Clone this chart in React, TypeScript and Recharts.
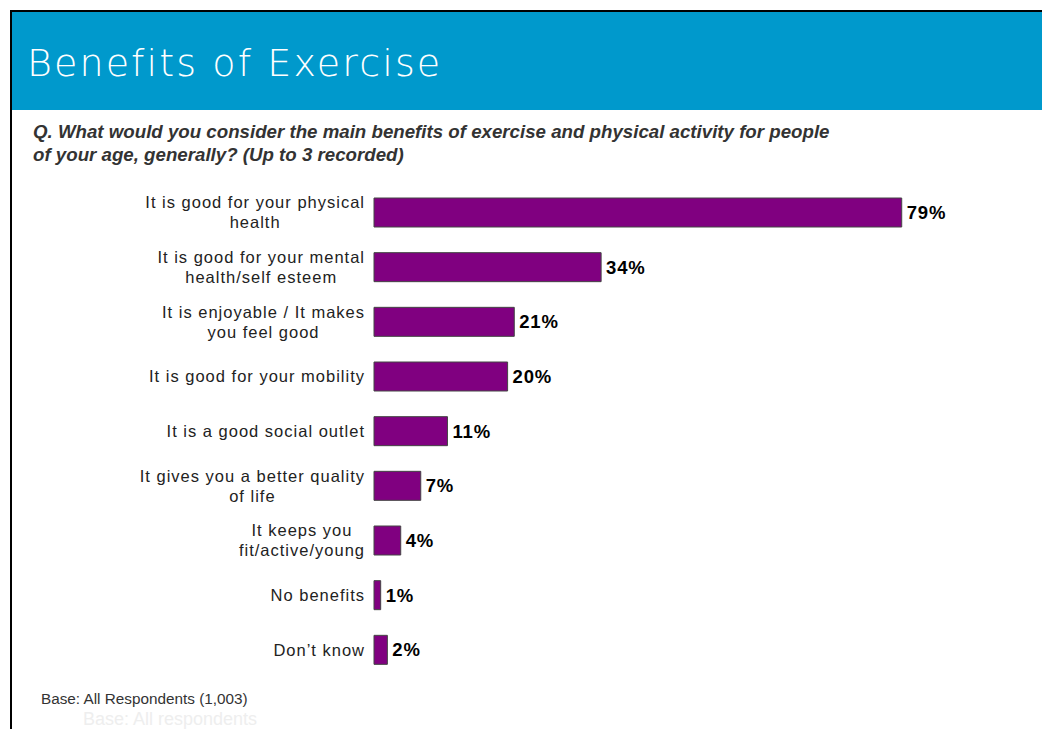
import { BarChart, Bar, XAxis, YAxis, LabelList } from "recharts";

const categories = [
  "It is good for your physical\nhealth",
  "It is good for your mental\nhealth/self esteem",
  "It is enjoyable / It makes\nyou feel good",
  "It is good for your mobility",
  "It is a good social outlet",
  "It gives you a better quality\nof life",
  "It keeps you\nfit/active/young",
  "No benefits",
  "Don\u2019t know",
];
const values = [79, 34, 21, 20, 11, 7, 4, 1, 2];

const data = categories.map((name, i) => ({ name, value: values[i] }));

const LABEL_SIZE = 16.5;
const LABEL_SPACING = 1;
const LABEL_FONT = `${LABEL_SIZE}px 'Liberation Sans', Arial, sans-serif`;

let ctx: CanvasRenderingContext2D | null = null;
function textWidth(s: string) {
  if (!ctx) ctx = document.createElement("canvas").getContext("2d");
  if (!ctx) return s.length * 8;
  ctx.font = LABEL_FONT;
  return ctx.measureText(s).width + s.length * LABEL_SPACING;
}

// multi-line category label, lines centred, block right-aligned to the axis
function CategoryTick(props: any) {
  const { x, y, payload } = props;
  const lines: string[] = String(payload.value).split("\n");
  const w = Math.max(...lines.map(textWidth));
  const cx = x - w / 2;
  const lh = 20;
  const y0 = y - ((lines.length - 1) * lh) / 2;
  return (
    <g>
      {lines.map((l, i) => (
        <text
          key={i}
          x={cx}
          y={y0 + i * lh}
          dy={6}
          textAnchor="middle"
          fill="#222"
          style={{ font: LABEL_FONT, letterSpacing: LABEL_SPACING }}
        >
          {l}
        </text>
      ))}
    </g>
  );
}

export default function App() {
  return (
    <div
      style={{
        position: "absolute",
        left: 0,
        top: 0,
        width: 1042,
        height: 729,
        background: "#fff",
        overflow: "hidden",
        fontFamily: "'Liberation Sans', Arial, sans-serif",
      }}
    >
      {/* frame */}
      <div style={{ position: "absolute", left: 10, top: 10, width: 1032, height: 2, background: "#000" }} />
      <div style={{ position: "absolute", left: 10, top: 10, width: 2, height: 719, background: "#000" }} />
      {/* header band */}
      <div
        style={{
          position: "absolute",
          left: 12,
          top: 12,
          width: 1030,
          height: 98,
          background: "#0099CC",
        }}
      />
      <div
        style={{
          position: "absolute",
          left: 27,
          top: 40,
          color: "#fff",
          fontFamily: "'DejaVu Sans ExtraLight', 'DejaVu Sans', sans-serif",
          fontWeight: 200,
          fontSize: 38,
          letterSpacing: 2.1,
          lineHeight: "46px",
          whiteSpace: "nowrap",
        }}
      >
        Benefits of Exercise
      </div>
      <div
        style={{
          position: "absolute",
          left: 33,
          top: 120,
          color: "#333",
          fontSize: 18.7,
          fontWeight: "bold",
          fontStyle: "italic",
          lineHeight: "23px",
          whiteSpace: "nowrap",
        }}
      >
        Q. What would you consider the main benefits of exercise and physical activity for people
        <br />
        of your age, generally? (Up to 3 recorded)
      </div>
      <div style={{ position: "absolute", left: 41, top: 690, fontSize: 15.3, color: "#333", whiteSpace: "nowrap" }}>
        Base: All Respondents (1,003)
      </div>
      <div
        style={{
          position: "absolute",
          left: 83,
          top: 709,
          fontSize: 18,
          lineHeight: "20px",
          color: "#eeeeee",
          whiteSpace: "nowrap",
        }}
      >
        Base: All respondents
      </div>

      <div style={{ position: "absolute", left: 0, top: 0 }}>
        <BarChart
          width={1042}
          height={729}
          data={data}
          layout="vertical"
          margin={{ top: 185, right: 0, left: 0, bottom: 52 }}
        >
          <XAxis type="number" domain={[0, 100]} hide />
          <YAxis
            type="category"
            dataKey="name"
            width={374}
            axisLine={false}
            tickLine={false}
            tick={<CategoryTick />}
            tickMargin={3}
            interval={0}
          />
          <Bar
            dataKey="value"
            fill="#800080"
            stroke="#444"
            strokeWidth={1}
            barSize={29}
            isAnimationActive={false}
          >
            <LabelList
              dataKey="value"
              position="right"
              offset={5}
              formatter={(v: any) => `${v}%`}
              style={{
                fontSize: 18.5,
                fontWeight: "bold",
                letterSpacing: 0.8,
                fill: "#000",
                fontFamily: "'Liberation Sans', Arial, sans-serif",
              }}
            />
          </Bar>
        </BarChart>
      </div>
    </div>
  );
}
